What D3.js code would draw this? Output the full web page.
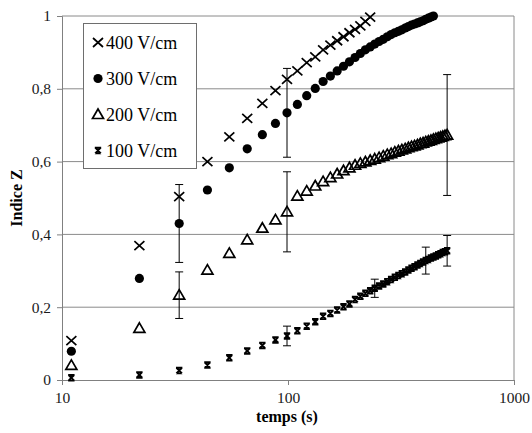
<!DOCTYPE html>
<html>
<head>
<meta charset="utf-8">
<script src="https://cdn.jsdelivr.net/npm/d3@7"></script>
<style>
  body { margin: 0; background: #fff; }
  svg { display: block; }
  text { font-family: "Liberation Serif", "Times New Roman", serif; }
</style>
</head>
<body>
<svg id="chart" width="532" height="433"></svg>
<script>
// time in seconds, one sample every ~11 s
const times = [11, 22, 33, 44, 55, 66, 77, 88, 99, 110, 121, 132, 143, 154, 165, 176, 187, 198, 209, 220,
  231, 242, 253, 264, 275, 286, 297, 308, 319, 330, 341, 352, 363, 374, 385, 396, 407, 418, 429, 440,
  451, 462, 473, 484, 495, 506];

const z400 = [0.108, 0.369, 0.504, 0.600, 0.668, 0.719, 0.760, 0.795, 0.826, 0.849, 0.872, 0.888, 0.907,
  0.920, 0.932, 0.943, 0.954, 0.963, 0.973, 0.985, 0.997];

const z300 = [0.079, 0.279, 0.430, 0.522, 0.583, 0.635, 0.674, 0.705, 0.734, 0.757, 0.781, 0.801, 0.820,
  0.835, 0.849, 0.862, 0.874, 0.886, 0.897, 0.907, 0.915, 0.923, 0.930, 0.936, 0.943, 0.949, 0.954,
  0.958, 0.962, 0.967, 0.971, 0.975, 0.978, 0.981, 0.984, 0.987, 0.991, 0.994, 0.997, 1.0];

const z200 = [0.040, 0.142, 0.233, 0.302, 0.348, 0.385, 0.417, 0.440, 0.462, 0.505, 0.519, 0.533, 0.545,
  0.556, 0.566, 0.575, 0.583, 0.590, 0.595, 0.599, 0.603, 0.607, 0.611, 0.615, 0.619, 0.622, 0.626,
  0.629, 0.632, 0.635, 0.638, 0.641, 0.643, 0.646, 0.649, 0.651, 0.654, 0.656, 0.658, 0.661, 0.663,
  0.665, 0.667, 0.669, 0.671, 0.673];

const z100 = [0.006, 0.014, 0.026, 0.041, 0.061, 0.080, 0.095, 0.110, 0.121, 0.135, 0.148, 0.160, 0.175,
  0.183, 0.192, 0.201, 0.209, 0.221, 0.230, 0.238, 0.245, 0.252, 0.258, 0.264, 0.270, 0.276, 0.282,
  0.287, 0.292, 0.297, 0.302, 0.307, 0.311, 0.316, 0.320, 0.324, 0.328, 0.331, 0.335, 0.338, 0.341,
  0.344, 0.347, 0.350, 0.352, 0.355];

// error bars: [sample index, half height]
const err300 = [[2, 0.107], [8, 0.122]];
const err200 = [[2, 0.064], [8, 0.110], [45, 0.166]];
const err100 = [[8, 0.027], [21, 0.025], [36, 0.037], [45, 0.042]];

const yTicks = [0, 0.2, 0.4, 0.6, 0.8, 1];
const xTicks = [10, 100, 1000];
const legendLabels = ["400 V/cm", "300 V/cm", "200 V/cm", "100 V/cm"];

const svg = d3.select("#chart");
const x = d3.scaleLog().domain([10, 1000]).range([62, 514]);
const y = d3.scaleLinear().domain([0, 1]).range([380, 16]);

// marker shapes
const shapes = {
  cross: "M-5,-4.5L5,4.5M5,-4.5L-5,4.5",
  circle: null,
  triangle: "M0,-5.5L5.5,4L-5.5,4Z",
  star: "M-3.2,-2.8L3.2,-2.8M-3.2,2.8L3.2,2.8M-2.8,-2.8L2.8,2.8M2.8,-2.8L-2.8,2.8"
};

function drawMarker(g, type, cx, cy) {
  if (type === "circle") {
    g.append("circle").attr("cx", cx).attr("cy", cy).attr("r", 4.6).attr("fill", "#000");
  } else {
    g.append("path")
      .attr("transform", `translate(${cx},${cy})`)
      .attr("d", shapes[type])
      .attr("fill", "none")
      .attr("stroke", "#000")
      .attr("stroke-width", type === "star" ? 1.9 : 1.7);
  }
}

// grid
svg.append("g").selectAll("line").data(yTicks.slice(1)).join("line")
  .attr("x1", x(10)).attr("x2", x(1000))
  .attr("y1", d => y(d)).attr("y2", d => y(d))
  .attr("stroke", "#8a8a8a").attr("stroke-width", 1);
svg.append("line")
  .attr("x1", x(1000)).attr("x2", x(1000)).attr("y1", y(1)).attr("y2", y(0))
  .attr("stroke", "#8a8a8a");

// axes
const yAxis = svg.append("g").attr("transform", `translate(${x(10)},0)`)
  .call(d3.axisLeft(y).tickValues(yTicks).tickSize(5).tickPadding(6)
    .tickFormat(d => String(d).replace(".", ",")));
const xAxis = svg.append("g").attr("transform", `translate(0,${y(0)})`)
  .call(d3.axisBottom(x).tickValues(xTicks).tickSize(5).tickPadding(7).tickFormat(d3.format("d")));
[yAxis, xAxis].forEach(a => {
  a.select(".domain").attr("stroke", "#808080");
  a.selectAll(".tick line").attr("stroke", "#808080");
  a.selectAll("text").attr("font-family", "Liberation Serif").attr("font-size", 15.5).attr("fill", "#1a1a1a");
});

// error bars
function drawErr(list, values) {
  const g = svg.append("g").attr("stroke", "#000").attr("stroke-width", 1);
  list.forEach(([i, e]) => {
    const cx = x(times[i]);
    g.append("line").attr("x1", cx).attr("x2", cx).attr("y1", y(values[i] + e)).attr("y2", y(values[i] - e));
    [values[i] + e, values[i] - e].forEach(v => {
      g.append("line").attr("x1", cx - 4).attr("x2", cx + 4).attr("y1", y(v)).attr("y2", y(v));
    });
  });
}
drawErr(err300, z300);
drawErr(err200, z200);
drawErr(err100, z100);

// points
const series = [
  { values: z100, type: "star" },
  { values: z200, type: "triangle" },
  { values: z300, type: "circle" },
  { values: z400, type: "cross" }
];
series.forEach(s => {
  const g = svg.append("g");
  s.values.forEach((v, i) => drawMarker(g, s.type, x(times[i]), y(v)));
});

// axis titles
svg.append("text")
  .attr("x", 287).attr("y", 422)
  .attr("text-anchor", "middle")
  .attr("font-size", 16).attr("font-weight", "bold")
  .text("temps (s)");
svg.append("text")
  .attr("transform", "translate(22,198) rotate(-90)")
  .attr("text-anchor", "middle")
  .attr("font-size", 16).attr("font-weight", "bold")
  .text("Indice Z");

// legend
const legend = svg.append("g");
legend.append("rect")
  .attr("x", 83.5).attr("y", 23.5).attr("width", 113).attr("height", 145)
  .attr("fill", "#fff").attr("stroke", "#6e6e6e");
const legendTypes = ["cross", "circle", "triangle", "star"];
legendLabels.forEach((label, k) => {
  const cy = 42.5 + k * 36;
  drawMarker(legend, legendTypes[k], 98, cy);
  legend.append("text")
    .attr("x", 106).attr("y", cy + 6)
    .attr("font-size", 18)
    .text(label);
});
</script>
</body>
</html>
